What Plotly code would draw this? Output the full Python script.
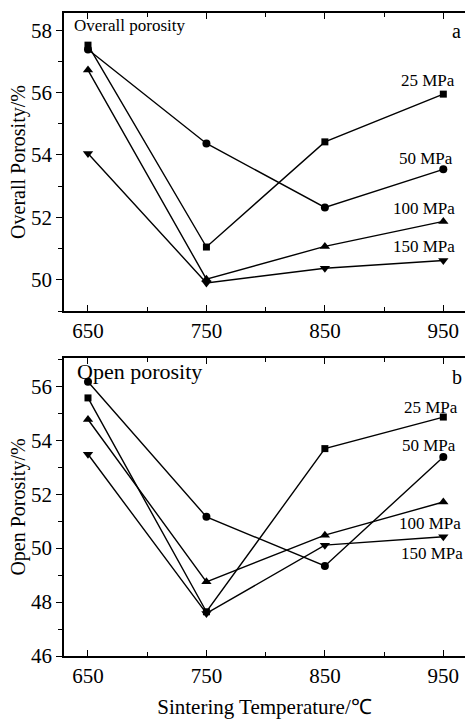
import plotly.graph_objects as go
from plotly.subplots import make_subplots

temps = [650, 750, 850, 950]
pressures = ["25 MPa", "50 MPa", "100 MPa", "150 MPa"]
overall_25 = [57.52, 51.05, 54.42, 55.95]
overall_50 = [57.38, 54.37, 52.32, 53.54]
overall_100 = [56.72, 50.02, 51.07, 51.87]
overall_150 = [54.05, 49.90, 50.37, 50.62]
open_25 = [55.57, 47.64, 53.69, 54.86]
open_50 = [56.17, 51.16, 49.34, 53.38]
open_100 = [54.77, 48.75, 50.48, 51.71]
open_150 = [53.48, 47.58, 50.11, 50.42]

symbols = ["square", "circle", "triangle-up", "triangle-down"]
msizes = [7, 8, 9, 9]

W, H = 465, 720
L, R, T, B = 64, 0, 13, 64
PW, PH = W - L - R, H - T - B

def px(x):
    return (x - L) / PW

def py(y):
    return (H - B - y) / PH

fig = make_subplots(rows=2, cols=1, shared_xaxes=False, vertical_spacing=0.073)

for row, series in [(1, [overall_25, overall_50, overall_100, overall_150]),
                    (2, [open_25, open_50, open_100, open_150])]:
    for vals, sym, ms, name in zip(series, symbols, msizes, pressures):
        fig.add_trace(go.Scatter(x=temps, y=vals, mode="lines+markers", name=name,
                                 line=dict(color="black", width=1.4),
                                 marker=dict(symbol=sym, size=ms, color="black"),
                                 showlegend=False), row=row, col=1)

font = "Liberation Serif, Times New Roman, serif"
xcommon = dict(range=[629.75, 968.3], tickvals=temps, ticks="inside", ticklen=6,
               tickwidth=1.2, showline=True, linecolor="black", linewidth=1.5,
               mirror="ticks", showgrid=False, zeroline=False,
               tickfont=dict(family=font, size=21, color="black"),
               minor=dict(tickvals=[700, 800, 900], ticks="inside", ticklen=4,
                          tickwidth=1.2, tickcolor="black", showgrid=False),
               tickcolor="black")
ycommon = dict(ticks="outside", ticklen=6, tickwidth=1.2, showline=True,
               linecolor="black", linewidth=1.5, showgrid=False, zeroline=False,
               tickcolor="black", dtick=2,
               tickfont=dict(family=font, size=21, color="black"),
               minor=dict(dtick=1, ticks="outside", ticklen=4, tickwidth=1.2,
                          tickcolor="black", showgrid=False))

fig.update_xaxes(**xcommon)
fig.update_xaxes(title=dict(text="Sintering Temperature/℃", font=dict(family=font, size=21, color="black"),
                            standoff=12), row=2, col=1)
fig.update_yaxes(**ycommon)
fig.update_yaxes(range=[49.0, 58.55], tick0=50,
                 title=dict(text="Overall Porosity/%", font=dict(family=font, size=20, color="black"),
                            standoff=0), row=1, col=1)
fig.update_yaxes(range=[46.0, 57.05], tick0=46,
                 title=dict(text="Open Porosity/%", font=dict(family=font, size=20, color="black"),
                            standoff=0), row=2, col=1)

fig.update_layout(
    width=W, height=H, margin=dict(l=L, r=R, t=T, b=B),
    plot_bgcolor="white", paper_bgcolor="white",
    xaxis=dict(domain=[0, 1]), xaxis2=dict(domain=[0, 1]),
    yaxis=dict(domain=[py(311), py(13)]), yaxis2=dict(domain=[py(656), py(358)]),
)

ann = [
    ("Overall porosity", 72, 26, 17, "left"),
    ("a", 456, 31, 20, "center"),
    ("25 MPa", 428, 80, 17, "center"),
    ("50 MPa", 426, 159, 17, "center"),
    ("100 MPa", 424, 209, 17, "center"),
    ("150 MPa", 424, 247, 17, "center"),
    ("Open porosity", 75, 372, 22, "left"),
    ("b", 457, 377, 20, "center"),
    ("25 MPa", 431, 407, 17, "center"),
    ("50 MPa", 429, 445, 17, "center"),
    ("100 MPa", 430, 523, 17, "center"),
    ("150 MPa", 432, 553, 17, "center"),
]
for text, x, y, size, anchor in ann:
    fig.add_annotation(text=text, x=px(x), y=py(y), xref="paper", yref="paper",
                       xanchor=anchor, yanchor="middle", showarrow=False,
                       font=dict(family=font, size=size, color="black"))

fig.write_html("out.html", config={"displayModeBar": False},
               post_script="document.body.style.margin='0';document.body.style.overflow='hidden';")
